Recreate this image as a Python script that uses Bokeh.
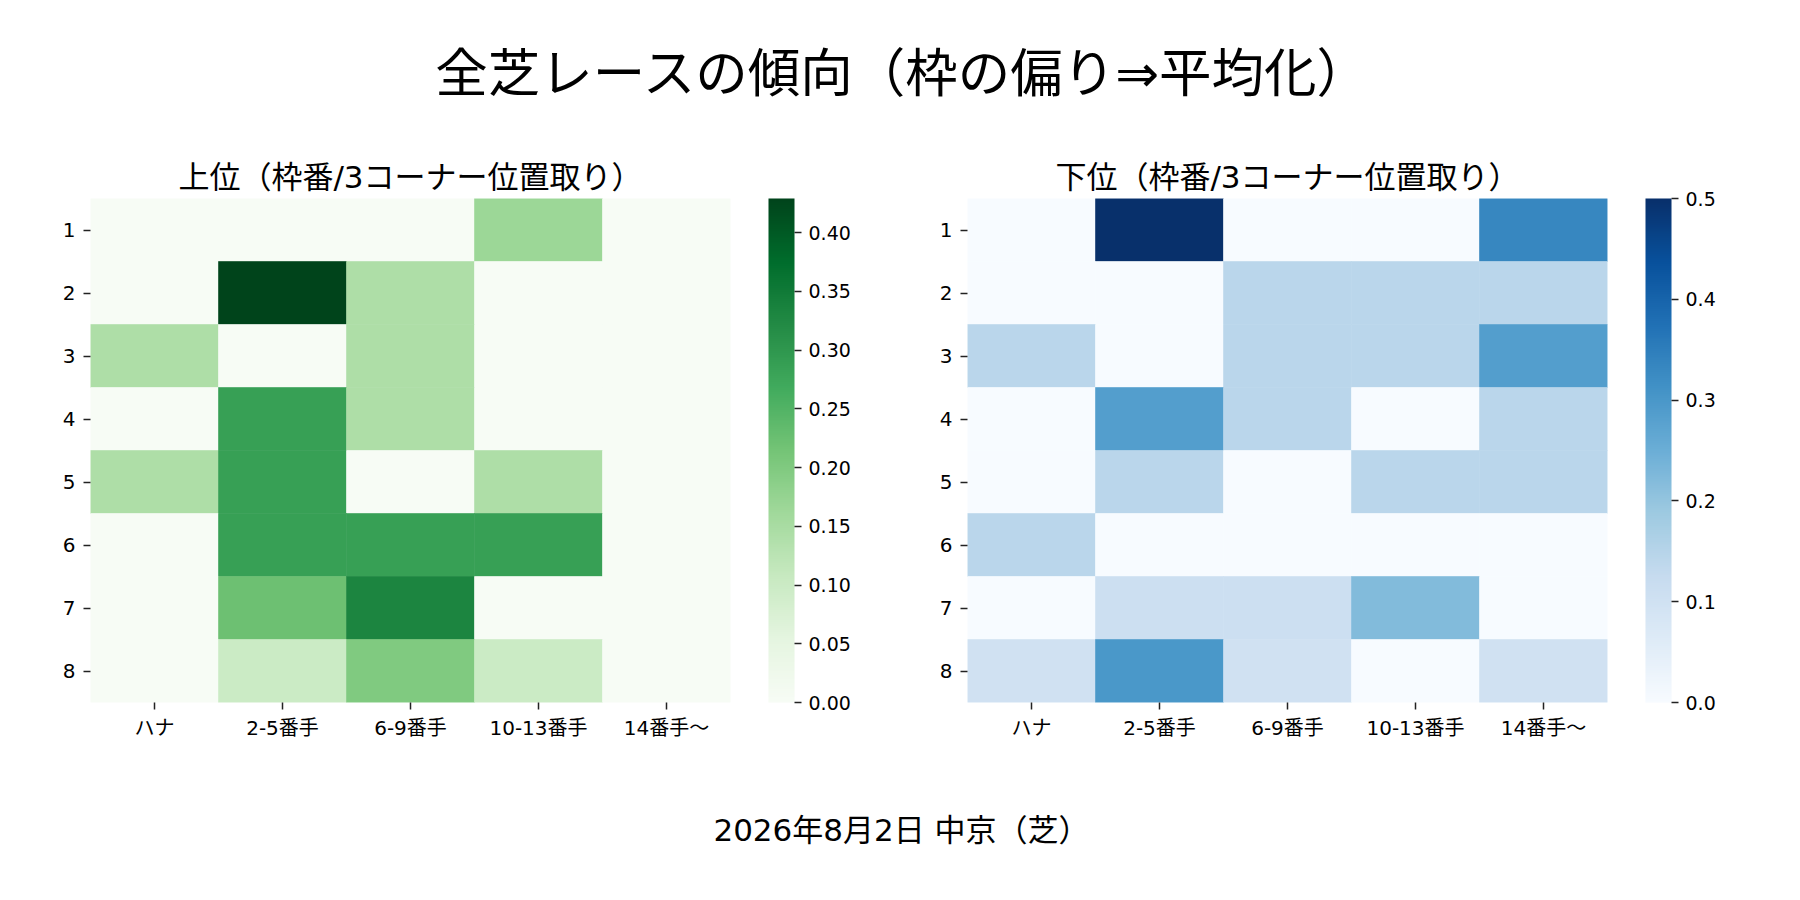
from bokeh.plotting import figure
from bokeh.models import (ColumnDataSource, LinearColorMapper, ColorBar, FixedTicker,
                          PrintfTickFormatter, Label, FactorRange)
from bokeh.layouts import column, row
from bokeh.transform import transform
from bokeh.embed import file_html
from bokeh.resources import INLINE

# ---------------- data ----------------
main_title = "全芝レースの傾向（枠の偏り⇒平均化）"
left_title = "上位（枠番/3コーナー位置取り）"
right_title = "下位（枠番/3コーナー位置取り）"
footer_text = "2026年8月2日 中京（芝）"

frames = ["1", "2", "3", "4", "5", "6", "7", "8"]
positions = ["ハナ", "2-5番手", "6-9番手", "10-13番手", "14番手〜"]

# rows = 枠 1..8, columns = positions
upper_vals = [
    [0.000, 0.000, 0.000, 0.167, 0.000],
    [0.000, 0.429, 0.143, 0.000, 0.000],
    [0.143, 0.000, 0.143, 0.000, 0.000],
    [0.000, 0.286, 0.143, 0.000, 0.000],
    [0.143, 0.286, 0.000, 0.143, 0.000],
    [0.000, 0.286, 0.286, 0.286, 0.000],
    [0.000, 0.222, 0.333, 0.000, 0.000],
    [0.000, 0.100, 0.200, 0.100, 0.000],
]
lower_vals = [
    [0.000, 0.500, 0.000, 0.000, 0.333],
    [0.000, 0.000, 0.143, 0.143, 0.143],
    [0.143, 0.000, 0.143, 0.143, 0.286],
    [0.000, 0.286, 0.143, 0.000, 0.143],
    [0.000, 0.143, 0.000, 0.143, 0.143],
    [0.143, 0.000, 0.000, 0.000, 0.000],
    [0.000, 0.111, 0.111, 0.222, 0.000],
    [0.100, 0.300, 0.100, 0.000, 0.100],
]
upper_ticks = [0.00, 0.05, 0.10, 0.15, 0.20, 0.25, 0.30, 0.35, 0.40]
lower_ticks = [0.0, 0.1, 0.2, 0.3, 0.4, 0.5]

# ---------------- colormaps (colorbrewer anchors, interpolated) ----------------
GREENS = ["#f7fcf5", "#e5f5e0", "#c7e9c0", "#a1d99b", "#74c476",
          "#41ab5d", "#238b45", "#006d2c", "#00441b"]
BLUES = ["#f7fbff", "#deebf7", "#c6dbef", "#9ecae1", "#6baed6",
         "#4292c6", "#2171b5", "#08519c", "#08306b"]


def interp_palette(anchors, n=256):
    rgb = [tuple(int(a[i:i + 2], 16) for i in (1, 3, 5)) for a in anchors]
    out = []
    segs = len(rgb) - 1
    for k in range(n):
        t = k / (n - 1) * segs
        i = min(int(t), segs - 1)
        f = t - i
        c = [round(rgb[i][j] + (rgb[i + 1][j] - rgb[i][j]) * f) for j in range(3)]
        out.append("#%02x%02x%02x" % tuple(c))
    return out


FONT = "'DejaVu Sans', 'Noto Sans CJK JP'"
TXT = "#000000"
TICK_COL = "#222222"
AXIS_FS = "20px"
CB_FS = "19px"


def heatmap(vals, title, palette, high, ticks, fmt, left_border, right_border):
    xs, ys, vs = [], [], []
    for i, fr in enumerate(frames):
        for j, pos in enumerate(positions):
            xs.append(pos)
            ys.append(fr)
            vs.append(vals[i][j])
    src = ColumnDataSource(dict(pos=xs, frame=ys, val=vs))
    mapper = LinearColorMapper(palette=palette, low=0, high=high)

    p = figure(x_range=FactorRange(*positions), y_range=FactorRange(*frames[::-1]),
               frame_width=640, frame_height=504,
               min_border_left=left_border, min_border_right=right_border,
               min_border_top=60, min_border_bottom=80,
               toolbar_location=None, output_backend="svg", title=title)
    p.rect(x="pos", y="frame", width=1, height=1, source=src,
           fill_color=transform("val", mapper), line_color=transform("val", mapper),
           line_width=0.6)

    p.title.text_font = FONT
    p.title.text_font_size = "31px"
    p.title.text_font_style = "normal"
    p.title.text_color = TXT
    p.title.align = "center"
    p.title.standoff = 8

    p.outline_line_color = None
    p.grid.visible = False
    for ax in (p.xaxis, p.yaxis):
        ax.axis_line_color = None
        ax.major_tick_in = 0
        ax.major_tick_out = 7
        ax.major_tick_line_color = TICK_COL
        ax.major_tick_line_width = 1.5
        ax.minor_tick_line_color = None
        ax.major_label_text_font = FONT
        ax.major_label_text_font_size = AXIS_FS
        ax.major_label_text_color = TXT
    p.xaxis.major_label_standoff = 6
    p.yaxis.major_label_standoff = 8

    cb = ColorBar(color_mapper=mapper, ticker=FixedTicker(ticks=ticks),
                  formatter=PrintfTickFormatter(format=fmt),
                  width=26, height=504, padding=0, location=(678, 0),
                  major_tick_in=0, major_tick_out=7,
                  major_tick_line_color=TICK_COL, major_tick_line_width=1.5,
                  minor_tick_line_color=None,
                  bar_line_color=None, border_line_color=None,
                  background_fill_color=None,
                  label_standoff=7,
                  major_label_text_font=FONT, major_label_text_font_size=CB_FS,
                  major_label_text_color=TXT)
    p.add_layout(cb, "center")
    return p


p1 = heatmap(upper_vals, left_title, interp_palette(GREENS), max(max(r) for r in upper_vals),
             upper_ticks, "%.2f", 90, 157)
p2 = heatmap(lower_vals, right_title, interp_palette(BLUES), max(max(r) for r in lower_vals),
             lower_ticks, "%.1f", 80, 170)


def text_fig(height, text, size, x, y):
    f = figure(width=1777, height=height, x_axis_type=None, y_axis_type=None,
               toolbar_location=None, output_backend="svg", min_border=0)
    f.outline_line_color = None
    f.grid.visible = False
    f.add_layout(Label(x=x, y=y, x_units="screen", y_units="screen", text=text,
                       text_font=FONT, text_font_size=size, text_color=TXT,
                       text_align="center", text_baseline="middle"))
    return f


top = text_fig(138, main_title, "52.5px", 903, 65)
bottom = text_fig(100, footer_text, "31px", 901, 53)

layout = column(top, row(p1, p2), bottom)

open("out.html", "w").write(file_html(layout, INLINE))
